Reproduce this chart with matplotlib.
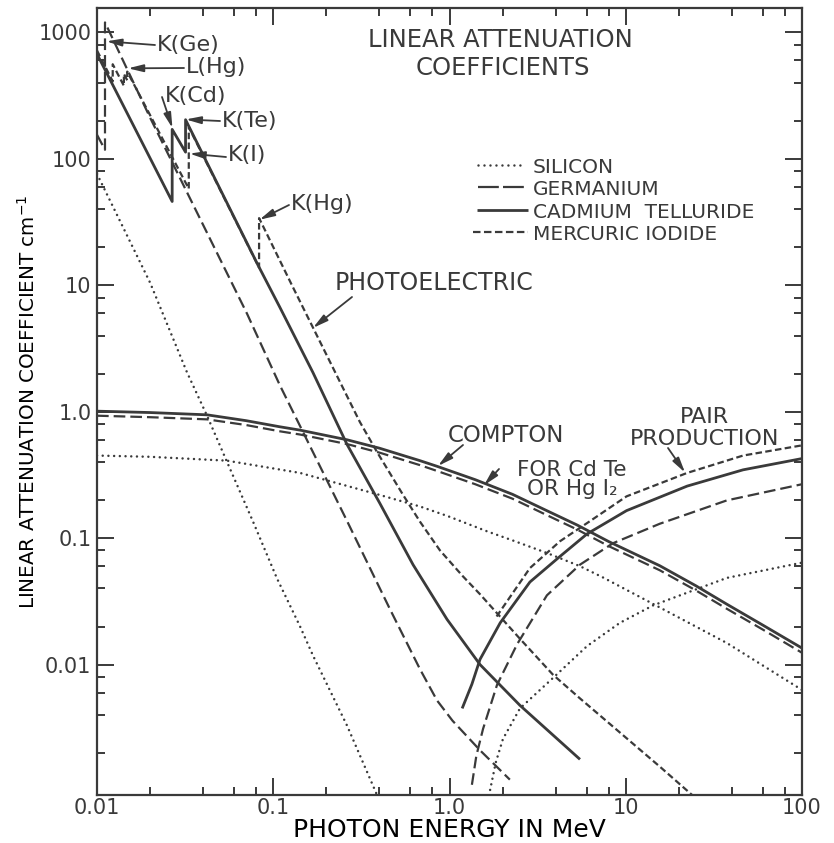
import matplotlib
matplotlib.use("Agg")
import matplotlib.pyplot as plt
from matplotlib.ticker import FixedLocator, FixedFormatter, NullFormatter, LogLocator

W, H = 834, 843
INK = "#3a3a3a"

plt.rcParams["font.family"] = ["DejaVu Sans"]
plt.rcParams["lines.scale_dashes"] = False
plt.rcParams["text.color"] = INK
plt.rcParams["xtick.color"] = INK
plt.rcParams["ytick.color"] = INK

# ---------------------------------------------------------------
# Linear attenuation coefficients (cm^-1) versus photon energy (MeV)
# ---------------------------------------------------------------

# Photoelectric absorption
si_photo_e = [0.01, 0.02, 0.0324, 0.0421, 0.0547, 0.0768, 0.105, 0.142, 0.168, 0.262, 0.388]
si_photo_mu = [76, 10.5, 2.05, 0.93, 0.40, 0.135, 0.048, 0.020, 0.0118, 0.0033, 0.00093]

ge_photo_e = [0.01, 0.0111, 0.0111, 0.02, 0.071, 0.109, 0.1476, 0.262, 0.459, 0.68,
              0.85, 1.04, 1.49, 2.2]
ge_photo_mu = [155, 118, 1200, 212, 5.96, 1.62, 0.69, 0.137, 0.0275, 0.0092,
               0.0052, 0.0036, 0.0021, 0.00123]

cdte_photo_e = [0.01, 0.0267, 0.0267, 0.0318, 0.0318, 0.0818, 0.109, 0.168, 0.262,
                0.403, 0.621, 0.968, 1.49, 2.51, 5.5]
cdte_photo_mu = [675, 46, 171, 113, 204, 14.5, 6.7, 2.04, 0.552,
                 0.188, 0.0617, 0.0228, 0.010, 0.00476, 0.00178]

hgi2_photo_e = [0.01, 0.01228, 0.01228, 0.01421, 0.01421, 0.01484, 0.01484, 0.03317,
                0.03317, 0.0831, 0.0831, 0.1277, 0.310, 0.388, 0.545, 0.68, 0.883,
                1.19, 1.49, 2.51, 3.87, 5.5, 9.27, 15.6, 23.8]
hgi2_photo_mu = [720, 410, 560, 378, 470, 418, 490, 58,
                 178, 13.8, 34, 10, 0.83, 0.48, 0.22, 0.135, 0.080,
                 0.050, 0.036, 0.016, 0.0083, 0.0054, 0.0029, 0.00156, 0.00093]

# Compton scattering
compton_e = [0.01, 0.02, 0.0421, 0.07, 0.109, 0.142, 0.262, 0.4, 0.68, 0.85, 1.4, 2.28,
             3.5, 5.3, 8, 15.6, 25, 37.5, 60, 100]
cdte_compton_mu = [1.01, 0.985, 0.945, 0.85, 0.76, 0.715, 0.60, 0.515, 0.41, 0.37, 0.29,
                   0.222, 0.167, 0.127, 0.094, 0.0605, 0.042, 0.030, 0.0205, 0.0135]
ge_compton_mu = [0.93, 0.905, 0.87, 0.785, 0.70, 0.66, 0.555, 0.475, 0.378, 0.34, 0.267,
                 0.205, 0.154, 0.117, 0.0865, 0.0557, 0.0386, 0.0276, 0.0189, 0.0124]

si_compton_e = [0.01, 0.02, 0.0547, 0.142, 0.4, 0.68, 0.97, 1.64, 2.28, 3.6, 5.5, 7.4,
                15.6, 37.5, 100]
si_compton_mu = [0.45, 0.44, 0.41, 0.328, 0.22, 0.178, 0.150, 0.113, 0.096, 0.076, 0.060,
                 0.049, 0.0283, 0.0148, 0.0063]

# Pair production
cdte_pair_e = [1.18, 1.34, 1.49, 1.94, 2.86, 4.2, 6.03, 10.1, 22.3, 46.3, 100]
cdte_pair_mu = [0.0045, 0.0070, 0.011, 0.0214, 0.045, 0.071, 0.108, 0.165, 0.258, 0.347, 0.426]

hgi2_pair_e = [1.85, 2.86, 4.24, 6.3, 10.1, 22.3, 46.3, 100]
hgi2_pair_mu = [0.024, 0.058, 0.0946, 0.137, 0.214, 0.328, 0.45, 0.542]

ge_pair_e = [1.34, 1.42, 1.55, 1.86, 2.42, 3.57, 5.5, 8.47, 15.6, 37.5, 100]
ge_pair_mu = [0.00112, 0.0019, 0.0031, 0.0069, 0.0145, 0.0353, 0.0617, 0.0912, 0.13, 0.199, 0.267]

si_pair_e = [1.70, 1.83, 2.01, 2.51, 3.87, 6.03, 9.27, 14.3, 37.5, 100]
si_pair_mu = [0.00102, 0.00168, 0.00258, 0.0045, 0.00785, 0.014, 0.0214, 0.0294, 0.0485, 0.064]

# Axis ticks
x_ticks = [0.01, 0.1, 1.0, 10, 100]
x_tick_labels = ["0.01", "0.1", "1.0", "10", "100"]
y_ticks = [0.01, 0.1, 1.0, 10, 100, 1000]
y_tick_labels = ["0.01", "0.1", "1.0", "10", "100", "1000"]

materials = ["Si", "Ge", "CdTe", "HgI2"]
material_names = ["SILICON", "GERMANIUM", "CADMIUM  TELLURIDE", "MERCURIC IODIDE"]

# line style per material
styles = {
    "Si": dict(linestyle=(0, (0.01, 4.1)), lw=1.8, dash_capstyle="round"),
    "Ge": dict(linestyle=(0, (8.4, 3.6)), lw=1.6, dash_capstyle="butt"),
    "CdTe": dict(linestyle="-", lw=2.0, solid_capstyle="butt"),
    "HgI2": dict(linestyle=(0, (4.7, 2.4)), lw=1.6, dash_capstyle="butt"),
}

curves = [
    ("Si", si_photo_e, si_photo_mu),
    ("Ge", ge_photo_e, ge_photo_mu),
    ("CdTe", cdte_photo_e, cdte_photo_mu),
    ("HgI2", hgi2_photo_e, hgi2_photo_mu),
    ("CdTe", compton_e, cdte_compton_mu),
    ("Ge", compton_e, ge_compton_mu),
    ("Si", si_compton_e, si_compton_mu),
    ("CdTe", cdte_pair_e, cdte_pair_mu),
    ("HgI2", hgi2_pair_e, hgi2_pair_mu),
    ("Ge", ge_pair_e, ge_pair_mu),
    ("Si", si_pair_e, si_pair_mu),
]


def fp(x, y):
    """Canvas pixel position (origin top-left) to figure fraction."""
    return x / W, 1 - y / H


fig = plt.figure(figsize=(W / 100, H / 100), dpi=100)
fig.patch.set_facecolor("white")
ax = fig.add_axes([97 / W, (H - 795) / H, 705 / W, 787 / H])
ax.set_xscale("log")
ax.set_yscale("log")
ax.set_xlim(0.01, 100)
ax.set_ylim(9.3e-4, 1560)

for mat, e, mu in curves:
    ax.plot(e, mu, color=INK, **styles[mat])

# ticks
ax.xaxis.set_major_locator(FixedLocator(x_ticks))
ax.xaxis.set_major_formatter(FixedFormatter(x_tick_labels))
ax.yaxis.set_major_locator(FixedLocator(y_ticks))
ax.yaxis.set_major_formatter(FixedFormatter(y_tick_labels))
for axis in (ax.xaxis, ax.yaxis):
    axis.set_minor_locator(LogLocator(base=10, subs=(2.0, 4.0, 6.0, 8.0), numticks=30))
    axis.set_minor_formatter(NullFormatter())
ax.tick_params(which="both", direction="in", top=True, right=True, width=1.4)
ax.tick_params(which="major", length=12)
ax.tick_params(which="minor", length=6)
ax.tick_params(axis="y", which="major", pad=4, labelsize=15)
ax.tick_params(axis="x", which="major", pad=2, labelsize=15)
for s in ax.spines.values():
    s.set_linewidth(1.6)
    s.set_color(INK)

# axis labels
ax.set_xlabel("PHOTON ENERGY IN MeV", fontsize=18)
ax.xaxis.set_label_coords(0.5, (795 - 830) / 787)
ax.xaxis.label.set_va("center")
ax.set_ylabel("LINEAR ATTENUATION COEFFICIENT cm$^{-1}$", fontsize=14.3)
ax.yaxis.set_label_coords((28 - 97) / 705, 0.5)
ax.yaxis.label.set_va("center")

# title block
fig.text(*fp(500, 47), "LINEAR ATTENUATION", ha="center", va="baseline", fontsize=17.5)
fig.text(*fp(503, 75), "COEFFICIENTS", ha="center", va="baseline", fontsize=17.5)

# key
key_rows = [(165, 478, 521), (187, 478, 524), (210, 477, 528), (232, 473, 528)]
key_styles = {
    "Si": dict(linestyle=(0, (0.01, 4.3)), lw=1.8, dash_capstyle="round"),
    "Ge": dict(linestyle=(0, (15, 3)), lw=1.6, dash_capstyle="butt"),
    "CdTe": dict(linestyle="-", lw=2.0, solid_capstyle="butt"),
    "HgI2": dict(linestyle=(0, (5.4, 2.5)), lw=1.6, dash_capstyle="butt"),
}
for mat, name, (yy, x0, x1) in zip(materials, material_names, key_rows):
    (a0, b0), (a1, b1) = fp(x0, yy), fp(x1, yy)
    fig.add_artist(plt.Line2D([a0, a1], [b0, b1], transform=fig.transFigure,
                              color=INK, **key_styles[mat]))
    fig.text(*fp(533, yy + 8), name, ha="left", va="baseline", fontsize=14.5)

# edge and process labels with pointers
arrow_kw = dict(arrowstyle="-|>,head_length=0.9,head_width=0.22", color=INK, lw=1.3,
                shrinkA=0, shrinkB=0, mutation_scale=10)


def pointer(start_px, tip):
    ax.annotate("", xy=tip, xycoords="data", xytext=fp(*start_px),
                textcoords="figure fraction", arrowprops=arrow_kw)


labels = [
    ("K(Ge)", 157, 51),
    ("L(Hg)", 186, 73),
    ("K(Cd)", 165, 102),
    ("K(Te)", 222, 127),
    ("K(I)", 228, 161),
    ("K(Hg)", 291, 210),
]
for txt, x, y in labels:
    fig.text(*fp(x, y), txt, ha="left", va="baseline", fontsize=16)

pointer((155, 45), (0.0113, 850))
pointer((184, 68), (0.0150, 520))
pointer((162, 97), (0.0268, 175))
pointer((220, 121), (0.0319, 205))
pointer((226, 157), (0.0335, 110))
pointer((289, 205), (0.0835, 33))

fig.text(*fp(434, 290), "PHOTOELECTRIC", ha="center", va="baseline", fontsize=17)
pointer((352, 297), (0.168, 4.6))

fig.text(*fp(506, 442), "COMPTON", ha="center", va="baseline", fontsize=16.5)
pointer((463, 445), (0.86, 0.372))
# two-line note; the anchor is the baseline of its last line
fig.text(*fp(572, 495), "FOR Cd Te\nOR Hg I\u2082", ha="center", va="baseline",
         multialignment="center", linespacing=0.95, fontsize=15.5)
pointer((499, 469), (1.57, 0.262))

fig.text(*fp(704, 423), "PAIR", ha="center", va="baseline", fontsize=16)
fig.text(*fp(705, 445), "PRODUCTION", ha="center", va="baseline", fontsize=16)
pointer((668, 448), (21.7, 0.33))

fig.savefig("out.png", dpi=100, facecolor="white")
